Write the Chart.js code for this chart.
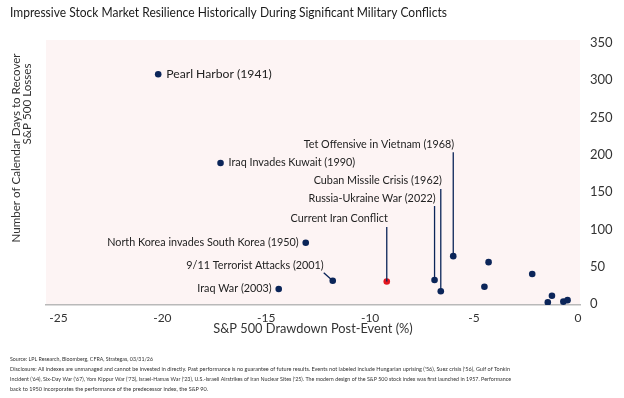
<!DOCTYPE html>
<html>
<head>
<meta charset="utf-8">
<script src="https://cdn.jsdelivr.net/npm/chart.js@4.4.1/dist/chart.umd.min.js"></script>
<style>
  html, body { margin: 0; padding: 0; background: #fff; }
  #wrap { width: 624px; height: 398px; position: relative; }
</style>
</head>
<body>
<div id="wrap"><canvas id="conflictChart"></canvas></div>
<script>
// data
var eventNames = [
  "Pearl Harbor (1941)",
  "Iraq Invades Kuwait (1990)",
  "North Korea invades South Korea (1950)",
  "9/11 Terrorist Attacks (2001)",
  "Iraq War (2003)",
  "Current Iran Conflict",
  "Russia-Ukraine War (2022)",
  "Cuban Missile Crisis (1962)",
  "Tet Offensive in Vietnam (1968)",
  "", "", "", "", "", "", ""
];
var drawdown = [-20.2, -17.2, -13.1, -11.8, -14.4, -9.2, -6.9, -6.6, -6.0, -4.3, -4.5, -2.2, -1.25, -1.45, -0.7, -0.5];
var daysToRecover = [308, 189, 82, 31, 20, 30, 32, 17, 64, 56, 23, 40, 11, 2, 3, 5];
var xTicks = [-25, -20, -15, -10, -5, 0];
var yTicks = [0, 50, 100, 150, 200, 250, 300, 350];

// how each label sits next to its dot
var labelSide = ["right", "right", "left", "diag", "left", "leader", "leader", "leader", "leader"];
var leaderTop = [null, null, null, null, null, 114, 142, 165, 214];

var navy = "#0b2559";
var red = "#e3161f";
var fontName = "Lato, 'Noto Sans', sans-serif";

var points = drawdown.map(function (x, i) {
  return { x: x, y: daysToRecover[i] };
});
var pointColors = eventNames.map(function (name) {
  return name === "Current Iran Conflict" ? red : navy;
});

// draw a line of text turned a quarter to the left, centred on (x, y)
function drawUpText(c, text, x, y) {
  c.save();
  c.translate(x, y);
  c.rotate(-Math.PI / 2);
  c.textAlign = "center";
  c.textBaseline = "middle";
  c.fillText(text, 0, 0);
  c.restore();
}

var chartText = {
  id: "chartText",
  beforeDraw: function (chart) {
    var c = chart.ctx, a = chart.chartArea;
    c.save();
    c.fillStyle = "#fff";
    c.fillRect(0, 0, chart.width, chart.height);
    c.fillStyle = "#fdf4f4";
    c.fillRect(a.left, a.top, a.right - a.left, a.bottom - a.top);
    c.restore();
  },
  afterDatasetsDraw: function (chart) {
    var c = chart.ctx;
    var xs = chart.scales.x, ys = chart.scales.y;
    c.save();
    c.fillStyle = "#222";
    c.strokeStyle = navy;
    c.lineWidth = 1.3;
    c.textBaseline = "middle";
    for (var i = 0; i < labelSide.length; i++) {
      var px = xs.getPixelForValue(drawdown[i]);
      var py = ys.getPixelForValue(daysToRecover[i]);
      c.font = (i === 0 ? "12.2px " : "10.8px ") + fontName;
      if (labelSide[i] === "right") {
        c.textAlign = "left";
        c.fillText(eventNames[i], px + 8, py);
      } else if (labelSide[i] === "left") {
        c.textAlign = "right";
        c.fillText(eventNames[i], px - 7, py);
      } else if (labelSide[i] === "diag") {
        c.textAlign = "right";
        c.fillText(eventNames[i], px - 9, py - 15);
        c.beginPath();
        c.moveTo(px - 9, py - 8);
        c.lineTo(px, py);
        c.stroke();
      } else {
        var ty = ys.getPixelForValue(leaderTop[i]);
        c.textAlign = "right";
        c.fillText(eventNames[i], px + 1, ty);
        c.beginPath();
        c.moveTo(px, ty + 8);
        c.lineTo(px, py);
        c.stroke();
      }
    }
    c.restore();
  },
  afterDraw: function (chart) {
    var c = chart.ctx;
    c.save();
    c.fillStyle = "#1b1b1b";
    c.textBaseline = "middle";
    c.textAlign = "left";
    c.font = "13.2px " + fontName;
    c.fillText("Impressive Stock Market Resilience Historically During Significant Military Conflicts", 10, 13, 437);

    // y axis title, two lines
    c.fillStyle = "#333";
    c.font = "11.6px " + fontName;
    drawUpText(c, "Number of Calendar Days to Recover", 16, 148);
    drawUpText(c, "S&P 500 Losses", 27, 104);

    // footnotes
    c.textBaseline = "middle";
    c.textAlign = "left";
    c.font = "6.3px 'Liberation Sans Narrow', " + fontName;
    c.fillText("Source: LPL Research, Bloomberg, CFRA, Strategas, 03/31/26", 10, 359, 143);
    c.fillText("Disclosure: All indexes are unmanaged and cannot be invested in directly. Past performance is no guarantee of future results. Events not labeled include Hungarian uprising ('56), Suez crisis ('56), Gulf of Tonkin", 10, 369, 500);
    c.fillText("Incident ('64), Six-Day War ('67), Yom Kippur War ('73), Israel-Hamas War ('23), U.S.-Israeli Airstrikes of Iran Nuclear Sites ('25). The modern design of the S&P 500 stock index was first launched in 1957. Performance", 10, 379, 501);
    c.fillText("back to 1950 incorporates the performance of the predecessor index, the S&P 90.", 10, 389, 198);
    c.restore();
  }
};

var ctx = document.getElementById("conflictChart").getContext("2d");

var config = {
  type: "scatter",
  data: {
    datasets: [{
      data: points,
      backgroundColor: pointColors,
      borderColor: pointColors,
      pointRadius: 3.3,
      pointHoverRadius: 3.3,
      borderWidth: 0
    }]
  },
  options: {
    responsive: true,
    maintainAspectRatio: false,
    animation: false,
    events: [],
    layout: { padding: { left: 46, top: 40, right: 0, bottom: 58 } },
    plugins: { legend: { display: false }, tooltip: { enabled: false } },
    scales: {
      x: {
        min: -25.6,
        max: 0.1,
        afterBuildTicks: function (axis) {
          axis.ticks = xTicks.map(function (v) { return { value: v }; });
        },
        afterFit: function (axis) { axis.height = 35; },
        grid: { display: false, drawTicks: false },
        border: { display: true, color: "#b9b9b9", width: 1.5 },
        ticks: { padding: 6, color: "#333", font: { family: fontName, size: 12 } },
        title: {
          display: true,
          text: "S&P 500 Drawdown Post-Event (%)",
          color: "#333",
          padding: { top: 0, bottom: 3 },
          font: { family: fontName, size: 12.8 }
        }
      },
      y: {
        position: "right",
        min: -1.5,
        max: 354,
        afterBuildTicks: function (axis) {
          axis.ticks = yTicks.map(function (v) { return { value: v }; });
        },
        afterFit: function (axis) { axis.width = 44; },
        grid: { display: false, drawTicks: false },
        border: { display: false },
        ticks: { padding: 10, color: "#333", font: { family: fontName, size: 13 } }
      }
    }
  },
  plugins: [chartText]
};

var conflictChart = new Chart(ctx, config);
</script>
</body>
</html>
